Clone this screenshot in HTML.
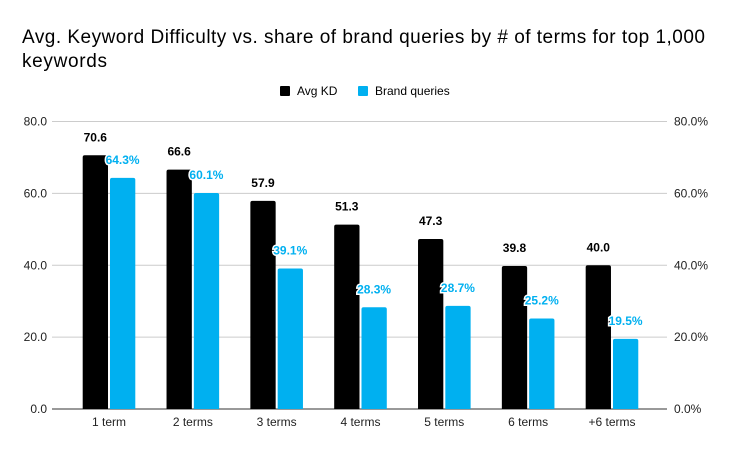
<!DOCTYPE html>
<html><head><meta charset="utf-8"><style>
body{margin:0;background:#fff;font-family:"Liberation Sans",Arial,sans-serif}
</style></head><body>
<svg width="732" height="452" xmlns="http://www.w3.org/2000/svg" font-family="Liberation Sans, Arial, sans-serif">
<rect width="732" height="452" fill="#fff"/>
<text x="22" y="43" font-size="19" textLength="683" lengthAdjust="spacing" fill="#000">Avg. Keyword Difficulty vs. share of brand queries by # of terms for top 1,000</text>
<text x="22" y="67" font-size="19" textLength="85" lengthAdjust="spacing" fill="#000">keywords</text>
<g font-size="12">
<rect x="280" y="86" width="10" height="10" rx="1" fill="#000"/>
<text x="297" y="95">Avg KD</text>
<rect x="358" y="86" width="10" height="10" rx="1" fill="#00b0f0"/>
<text x="375" y="95">Brand queries</text>
</g>
<g id="grid"></g><g id="bars"></g>
</svg>
<script>
const categories=["1 term","2 terms","3 terms","4 terms","5 terms","6 terms","+6 terms"];
const avgKD=[70.6,66.6,57.9,51.3,47.3,39.8,40.0];
const brand=[64.3,60.1,39.1,28.3,28.7,25.2,19.5];
const leftTicks=[0,20,40,60,80];
const rightTicks=[0,20,40,60,80];
const NS="http://www.w3.org/2000/svg";
const y0=409,y80=121.5;
const y=v=>y0-(v/80)*(y0-y80);
const gx=i=>82.7+i*83.83;
const grid=document.getElementById('grid'),bars=document.getElementById('bars');
function mk(tag,attrs,parent,txt){const e=document.createElementNS(NS,tag);for(const k in attrs)e.setAttribute(k,attrs[k]);if(txt!==undefined)e.textContent=txt;parent.appendChild(e);return e;}
leftTicks.forEach((t,i)=>{
 const l=mk('line',{x1:52,x2:667,y1:y(t),y2:y(t),stroke:t===0?'#333':'#ccc','stroke-width':1},grid);
 
 
 const a=mk('text',{x:47,y:y(t)+4,'font-size':12,'text-anchor':'end',fill:'#222'},grid,t.toFixed(1));
 
 
});
rightTicks.forEach(t=>{
 const a=mk('text',{x:674,y:y(t)+4,'font-size':12,fill:'#222'},grid,t.toFixed(1)+'%');
 
 
});
categories.forEach((c,i)=>{
 const x=gx(i);
 const b=mk('path',{d:`M${x},${y0}V${y(avgKD[i])+2}q0,-2 2,-2h21.3q2,0 2,2V${y0}Z`,fill:'#000'},bars);
 
 
 const bx=x+27.3;
 const b2=mk('path',{d:`M${bx},${y0}V${y(brand[i])+2}q0,-2 2,-2h21.3q2,0 2,2V${y0}Z`,fill:'#00b0f0'},bars);
 
 
 const t1=mk('text',{x:x+12.6,y:y(avgKD[i])-14,'font-size':12,'font-weight':'bold','text-anchor':'middle',fill:'#000'},bars,avgKD[i].toFixed(1));
 
 
 const t2=mk('text',{x:bx+12.6,y:y(brand[i])-14,'font-size':12,'font-weight':'bold','text-anchor':'middle',fill:'#00b0f0',stroke:'#fff','stroke-width':3,'paint-order':'stroke'},bars,brand[i].toFixed(1)+'%');
 
 
 const cl=mk('text',{x:x+26.3,y:426,'font-size':12,'text-anchor':'middle',fill:'#222'},bars,c);
 
 
});
</script>
</body></html>
